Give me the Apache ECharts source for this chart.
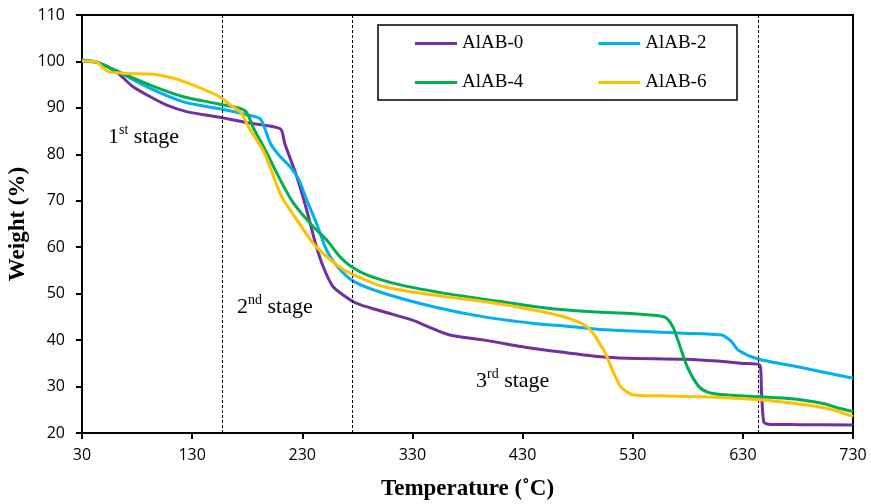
<!DOCTYPE html>
<html><head><meta charset="utf-8">
<script src="https://cdn.jsdelivr.net/npm/echarts@6/dist/echarts.min.js"></script>
<style>html,body{margin:0;padding:0;background:#fff}#c{width:871px;height:504px}</style>
</head><body><div id="c"></div>
<script>
// ---- data (temperature °C, weight %) ----
const seriesNames = ['AlAB-0', 'AlAB-2', 'AlAB-4', 'AlAB-6'];
const alab0 = [[30,100.2],[43,99.9],[61,97.8],[76,94.6],[92,92.4],[107,90.6],[125,89.2],[155,88.0],[180,86.8],[210,85.5],[214,82.4],[225,75.2],[234,68.0],[242,60.8],[249,55.8],[258,51.5],[274,48.6],[283,47.6],[304,46.1],[330,44.3],[346,42.7],[364,41.1],[395,40.0],[440,38.2],[470,37.3],[501,36.4],[525,36.1],[577,35.9],[607,35.5],[628,35.0],[645.5,34.6],[647,28.5],[649,22.4],[653,21.9],[680,21.8],[730,21.7]];
const alab2 = [[30,100.3],[43,99.9],[61,98.0],[92,94.2],[122,91.3],[155,89.8],[180,88.5],[192,87.6],[201,82.4],[210,79.5],[219,77.3],[227,74.5],[234,70.2],[243,65.1],[252,59.4],[262,55.8],[277,52.6],[304,50.1],[349,47.2],[395,45.0],[440,43.6],[470,43.0],[501,42.3],[525,42.0],[577,41.5],[611,41.1],[616,40.4],[620,39.6],[626,37.8],[643,36.0],[683,34.1],[730,31.8]];
const alab4 = [[30,100.1],[45,99.7],[61,98.0],[92,94.9],[122,92.4],[155,90.8],[178,89.4],[186,85.5],[198,80.2],[210,74.5],[222,69.5],[240,64.4],[252,61.6],[264,58.0],[274,55.9],[289,54.0],[319,51.9],[364,49.9],[410,48.3],[455,46.8],[501,46.0],[525,45.8],[555,45.2],[561,44.7],[567,42.6],[574,37.9],[580,34.0],[590,30.0],[598,28.8],[610,28.3],[646,27.8],[674,27.4],[690,26.9],[704,26.3],[715,25.5],[730,24.6]];
const alab6 = [[30,100.1],[43,99.9],[48,98.9],[54,97.8],[71,97.4],[92,97.3],[113,96.4],[131,94.9],[149,93.1],[157,92.1],[165,90.6],[175,88.8],[181,86.0],[195,80.6],[202,76.5],[211,71.0],[225,65.9],[240,60.8],[252,58.0],[268,55.1],[283,53.4],[304,51.5],[349,49.7],[395,48.3],[440,46.5],[465,45.2],[480,44.0],[489,42.8],[495,41.2],[501,38.8],[504,37.8],[513,32.8],[519,30.0],[525,28.8],[531,28.2],[556,28.0],[592,27.8],[643,27.2],[683,26.2],[700,25.6],[713,24.9],[730,23.6]];
const stageBounds = [157.3, 275.2, 643.9];
const xRange = [30, 730, 100];
const yRange = [20, 110, 10];
const stageLabels = [['1', 'st'], ['2', 'nd'], ['3', 'rd']];

const colors = ['#7030A0', '#00B0F0', '#00B050', '#FFC000'];
const allData = [alab0, alab2, alab4, alab6];

const chart = echarts.init(document.getElementById('c'));
const serifFont = '"Liberation Serif", "Times New Roman", serif';
const sansFont = '"Open Sans", sans-serif';

const series = seriesNames.map((n, i) => ({
  name: n, type: 'line', data: allData[i], showSymbol: false, symbol: 'none',
  smooth: 0.25,
  lineStyle: { width: 3, color: colors[i] }, itemStyle: { color: colors[i] },
  z: 3 + i
}));
series[0].markLine = {
  silent: true, symbol: 'none', label: { show: false },
  lineStyle: { type: [3, 2], color: '#000', width: 1 },
  data: stageBounds.map(v => ({ xAxis: v }))
};

function stageText(i, x, y) {
  return {
    type: 'text', left: x, top: y, z: 10,
    style: {
      text: '{n|' + stageLabels[i][0] + '}{s|' + stageLabels[i][1] + '}{n| stage}',
      rich: {
        n: { fontFamily: serifFont, fontSize: 22, lineHeight: 25, fill: '#000', verticalAlign: 'bottom' },
        s: { fontFamily: serifFont, fontSize: 14, lineHeight: 25, fill: '#000', verticalAlign: 'top' }
      }
    }
  };
}

const legendCommon = {
  left: 415, padding: 0, itemWidth: 42, itemHeight: 3, itemGap: 75, icon: 'rect',
  textStyle: { fontFamily: serifFont, fontSize: 19, lineHeight: 19, color: '#000' }
};

chart.setOption({
  animation: false,
  backgroundColor: '#fff',
  grid: { left: 82, right: 18, top: 15, bottom: 71, outerBoundsMode: 'none', containLabel: false,
          show: true, borderColor: '#000', borderWidth: 2 },
  xAxis: {
    type: 'value', min: xRange[0], max: xRange[1], interval: xRange[2],
    name: 'Temperature (˚C)', nameLocation: 'middle', nameGap: 45,
    nameTextStyle: { fontFamily: serifFont, fontSize: 23, fontWeight: 'bold', color: '#000' },
    axisLine: { show: true, lineStyle: { color: '#000', width: 2 } },
    axisTick: { show: true, length: 6, lineStyle: { color: '#000', width: 2 } },
    axisLabel: { fontFamily: sansFont, fontSize: 16, color: '#000', margin: 14 },
    splitLine: { show: false }
  },
  yAxis: {
    type: 'value', min: yRange[0], max: yRange[1], interval: yRange[2],
    name: 'Weight (%)', nameLocation: 'middle', nameGap: 52, nameMoveOverlap: false,
    nameTextStyle: { fontFamily: serifFont, fontSize: 23, fontWeight: 'bold', color: '#000' },
    axisLine: { show: true, lineStyle: { color: '#000', width: 2 } },
    axisTick: { show: true, length: 6, lineStyle: { color: '#000', width: 2 } },
    axisLabel: { fontFamily: sansFont, fontSize: 16, color: '#000', margin: 17 },
    splitLine: { show: false }
  },
  legend: [
    Object.assign({}, legendCommon, { top: 34, data: [seriesNames[0], seriesNames[1]] }),
    Object.assign({}, legendCommon, { top: 73, data: [seriesNames[2], seriesNames[3]] })
  ],
  graphic: [
    { type: 'rect', z: 1, shape: { x: 378, y: 25, width: 359, height: 75 }, style: { fill: 'none', stroke: '#000', lineWidth: 1.5 } },
    stageText(0, 108, 123),
    stageText(1, 237, 293),
    stageText(2, 476, 367)
  ],
  series: series
});
</script></body></html>
